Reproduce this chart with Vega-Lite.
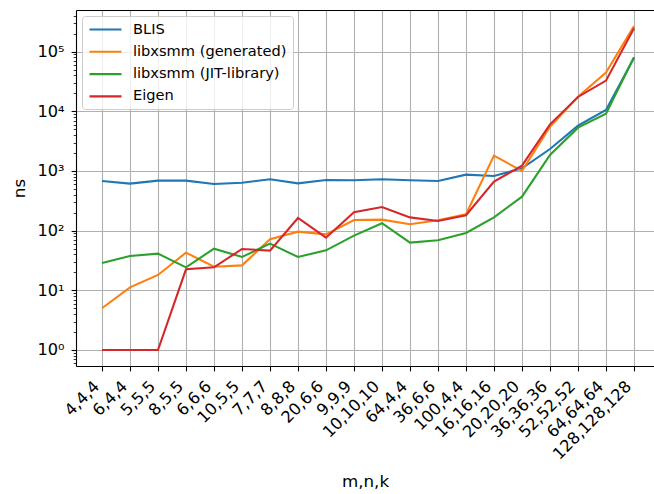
{
  "$schema": "https://vega.github.io/schema/vega-lite/v6.json",
  "width": 578,
  "height": 356,
  "autosize": {"type": "none"},
  "padding": {"left": 76, "top": 10, "right": 0, "bottom": 128},
  "background": "white",
  "config": {
    "font": "DejaVu Sans",
    "view": {"stroke": null},
    "axis": {
      "labelFont": "DejaVu Sans",
      "labelFontSize": 16.2,
      "labelColor": "black",
      "titleFont": "DejaVu Sans",
      "titleFontSize": 16.7,
      "titleFontWeight": "normal",
      "titleColor": "black",
      "domainColor": "black",
      "domainWidth": 1.1,
      "tickColor": "black",
      "gridColor": "#b0b0b0",
      "gridWidth": 1.1
    }
  },
  "data": {
    "values": [
      {"shape": "4,4,4", "lib": "BLIS", "ns": 680},
      {"shape": "6,4,4", "lib": "BLIS", "ns": 614},
      {"shape": "5,5,5", "lib": "BLIS", "ns": 689},
      {"shape": "8,5,5", "lib": "BLIS", "ns": 689},
      {"shape": "6,6,6", "lib": "BLIS", "ns": 606},
      {"shape": "10,5,5", "lib": "BLIS", "ns": 637},
      {"shape": "7,7,7", "lib": "BLIS", "ns": 725},
      {"shape": "8,8,8", "lib": "BLIS", "ns": 621},
      {"shape": "20,6,6", "lib": "BLIS", "ns": 707},
      {"shape": "9,9,9", "lib": "BLIS", "ns": 698},
      {"shape": "10,10,10", "lib": "BLIS", "ns": 725},
      {"shape": "64,4,4", "lib": "BLIS", "ns": 698},
      {"shape": "36,6,6", "lib": "BLIS", "ns": 680},
      {"shape": "100,4,4", "lib": "BLIS", "ns": 868},
      {"shape": "16,16,16", "lib": "BLIS", "ns": 824},
      {"shape": "20,20,20", "lib": "BLIS", "ns": 1108},
      {"shape": "36,36,36", "lib": "BLIS", "ns": 2337},
      {"shape": "52,52,52", "lib": "BLIS", "ns": 5750},
      {"shape": "64,64,64", "lib": "BLIS", "ns": 10530},
      {"shape": "128,128,128", "lib": "BLIS", "ns": 79000},

      {"shape": "4,4,4", "lib": "libxsmm (generated)", "ns": 5.0},
      {"shape": "6,4,4", "lib": "libxsmm (generated)", "ns": 11.2},
      {"shape": "5,5,5", "lib": "libxsmm (generated)", "ns": 18.1},
      {"shape": "8,5,5", "lib": "libxsmm (generated)", "ns": 42.8},
      {"shape": "6,6,6", "lib": "libxsmm (generated)", "ns": 24.9},
      {"shape": "10,5,5", "lib": "libxsmm (generated)", "ns": 26.2},
      {"shape": "7,7,7", "lib": "libxsmm (generated)", "ns": 71.6},
      {"shape": "8,8,8", "lib": "libxsmm (generated)", "ns": 96.2},
      {"shape": "20,6,6", "lib": "libxsmm (generated)", "ns": 86.8},
      {"shape": "9,9,9", "lib": "libxsmm (generated)", "ns": 151},
      {"shape": "10,10,10", "lib": "libxsmm (generated)", "ns": 153},
      {"shape": "64,4,4", "lib": "libxsmm (generated)", "ns": 128},
      {"shape": "36,6,6", "lib": "libxsmm (generated)", "ns": 149},
      {"shape": "100,4,4", "lib": "libxsmm (generated)", "ns": 188},
      {"shape": "16,16,16", "lib": "libxsmm (generated)", "ns": 1807},
      {"shape": "20,20,20", "lib": "libxsmm (generated)", "ns": 1000},
      {"shape": "36,36,36", "lib": "libxsmm (generated)", "ns": 5530},
      {"shape": "52,52,52", "lib": "libxsmm (generated)", "ns": 17600},
      {"shape": "64,64,64", "lib": "libxsmm (generated)", "ns": 44500},
      {"shape": "128,128,128", "lib": "libxsmm (generated)", "ns": 269000},

      {"shape": "4,4,4", "lib": "libxsmm (JIT-library)", "ns": 28.7},
      {"shape": "6,4,4", "lib": "libxsmm (JIT-library)", "ns": 37.6},
      {"shape": "5,5,5", "lib": "libxsmm (JIT-library)", "ns": 41.2},
      {"shape": "8,5,5", "lib": "libxsmm (JIT-library)", "ns": 24.3},
      {"shape": "6,6,6", "lib": "libxsmm (JIT-library)", "ns": 49.9},
      {"shape": "10,5,5", "lib": "libxsmm (JIT-library)", "ns": 36.2},
      {"shape": "7,7,7", "lib": "libxsmm (JIT-library)", "ns": 60.5},
      {"shape": "8,8,8", "lib": "libxsmm (JIT-library)", "ns": 36.2},
      {"shape": "20,6,6", "lib": "libxsmm (JIT-library)", "ns": 46.8},
      {"shape": "9,9,9", "lib": "libxsmm (JIT-library)", "ns": 82.5},
      {"shape": "10,10,10", "lib": "libxsmm (JIT-library)", "ns": 133},
      {"shape": "64,4,4", "lib": "libxsmm (JIT-library)", "ns": 63},
      {"shape": "36,6,6", "lib": "libxsmm (JIT-library)", "ns": 68.9},
      {"shape": "100,4,4", "lib": "libxsmm (JIT-library)", "ns": 91.4},
      {"shape": "16,16,16", "lib": "libxsmm (JIT-library)", "ns": 167},
      {"shape": "20,20,20", "lib": "libxsmm (JIT-library)", "ns": 371},
      {"shape": "36,36,36", "lib": "libxsmm (JIT-library)", "ns": 1854},
      {"shape": "52,52,52", "lib": "libxsmm (JIT-library)", "ns": 5320},
      {"shape": "64,64,64", "lib": "libxsmm (JIT-library)", "ns": 9140},
      {"shape": "128,128,128", "lib": "libxsmm (JIT-library)", "ns": 80400},

      {"shape": "4,4,4", "lib": "Eigen", "ns": 1},
      {"shape": "6,4,4", "lib": "Eigen", "ns": 1},
      {"shape": "5,5,5", "lib": "Eigen", "ns": 1},
      {"shape": "8,5,5", "lib": "Eigen", "ns": 22.5},
      {"shape": "6,6,6", "lib": "Eigen", "ns": 24.3},
      {"shape": "10,5,5", "lib": "Eigen", "ns": 49.3},
      {"shape": "7,7,7", "lib": "Eigen", "ns": 46.2},
      {"shape": "8,8,8", "lib": "Eigen", "ns": 163},
      {"shape": "20,6,6", "lib": "Eigen", "ns": 76.3},
      {"shape": "9,9,9", "lib": "Eigen", "ns": 203},
      {"shape": "10,10,10", "lib": "Eigen", "ns": 249},
      {"shape": "64,4,4", "lib": "Eigen", "ns": 167},
      {"shape": "36,6,6", "lib": "Eigen", "ns": 145},
      {"shape": "100,4,4", "lib": "Eigen", "ns": 181},
      {"shape": "16,16,16", "lib": "Eigen", "ns": 663},
      {"shape": "20,20,20", "lib": "Eigen", "ns": 1228},
      {"shape": "36,36,36", "lib": "Eigen", "ns": 6050},
      {"shape": "52,52,52", "lib": "Eigen", "ns": 17400},
      {"shape": "64,64,64", "lib": "Eigen", "ns": 32700},
      {"shape": "128,128,128", "lib": "Eigen", "ns": 246000}
    ]
  },
  "layer": [
    {
      "mark": {"type": "line", "strokeWidth": 2.08, "clip": true},
      "encoding": {
        "x": {
          "field": "shape",
          "type": "nominal",
          "sort": null,
          "scale": {"type": "point", "padding": 0.821, "align": 0.565},
          "axis": {
            "title": "m,n,k",
            "grid": true,
            "domain": true,
            "ticks": true,
            "tickSize": 4.9,
            "tickWidth": 1.1,
            "labelAngle": -45,
            "labelAlign": "right",
            "labelBaseline": "bottom",
            "labelPadding": 18.3,
            "labelOffset": 0,
            "labelOverlap": false,
            "titlePadding": 11
          }
        },
        "y": {
          "field": "ns",
          "type": "quantitative",
          "scale": {"type": "log", "domain": [0.539, 499000], "nice": false},
          "axis": {
            "title": "ns",
            "grid": true,
            "domain": true,
            "values": [0.6, 0.7, 0.8, 0.9, 1, 2, 3, 4, 5, 6, 7, 8, 9, 10, 20, 30, 40, 50, 60, 70, 80, 90, 100, 200, 300, 400, 500, 600, 700, 800, 900, 1000, 2000, 3000, 4000, 5000, 6000, 7000, 8000, 9000, 10000, 20000, 30000, 40000, 50000, 60000, 70000, 80000, 90000, 100000, 200000, 300000, 400000],
            "labelExpr": "abs(log(datum.value)/LN10 - round(log(datum.value)/LN10)) < 0.001 ? '10' + ['⁰','¹','²','³','⁴','⁵'][round(log(datum.value)/LN10)] : ''",
            "labelOverlap": false,
            "labelPadding": 7,
            "tickSize": {"condition": {"test": "abs(log(datum.value)/LN10 - round(log(datum.value)/LN10)) < 0.001", "value": 4.9}, "value": 2.8},
            "tickWidth": {"condition": {"test": "abs(log(datum.value)/LN10 - round(log(datum.value)/LN10)) < 0.001", "value": 1.1}, "value": 0.8},
            "gridOpacity": {"condition": {"test": "abs(log(datum.value)/LN10 - round(log(datum.value)/LN10)) < 0.001", "value": 1}, "value": 0},
            "titlePadding": 9
          }
        },
        "color": {
          "field": "lib",
          "type": "nominal",
          "sort": null,
          "scale": {
            "domain": ["BLIS", "libxsmm (generated)", "libxsmm (JIT-library)", "Eigen"],
            "range": ["#1f77b4", "#ff7f0e", "#2ca02c", "#d62728"]
          },
          "legend": {
            "title": null,
            "orient": "none",
            "legendX": 6,
            "legendY": 6,
            "symbolType": "M-1,0H4.33",
            "symbolStrokeWidth": 2.08,
            "symbolSize": 144,
            "labelFont": "DejaVu Sans",
            "labelFontSize": 14.6,
            "labelColor": "black",
            "labelOffset": 30,
            "fillColor": "rgba(255,255,255,0.8)",
            "strokeColor": "#cccccc",
            "cornerRadius": 3,
            "padding": 6,
            "rowPadding": 6.3
          }
        }
      }
    },
    {
      "mark": {"type": "point", "opacity": 0},
      "encoding": {
        "x": {
          "field": "shape",
          "type": "nominal",
          "sort": null,
          "axis": {"orient": "top", "title": null, "labels": false, "ticks": false, "grid": false, "domain": true}
        }
      }
    }
  ],
  "resolve": {"axis": {"x": "independent"}}
}
